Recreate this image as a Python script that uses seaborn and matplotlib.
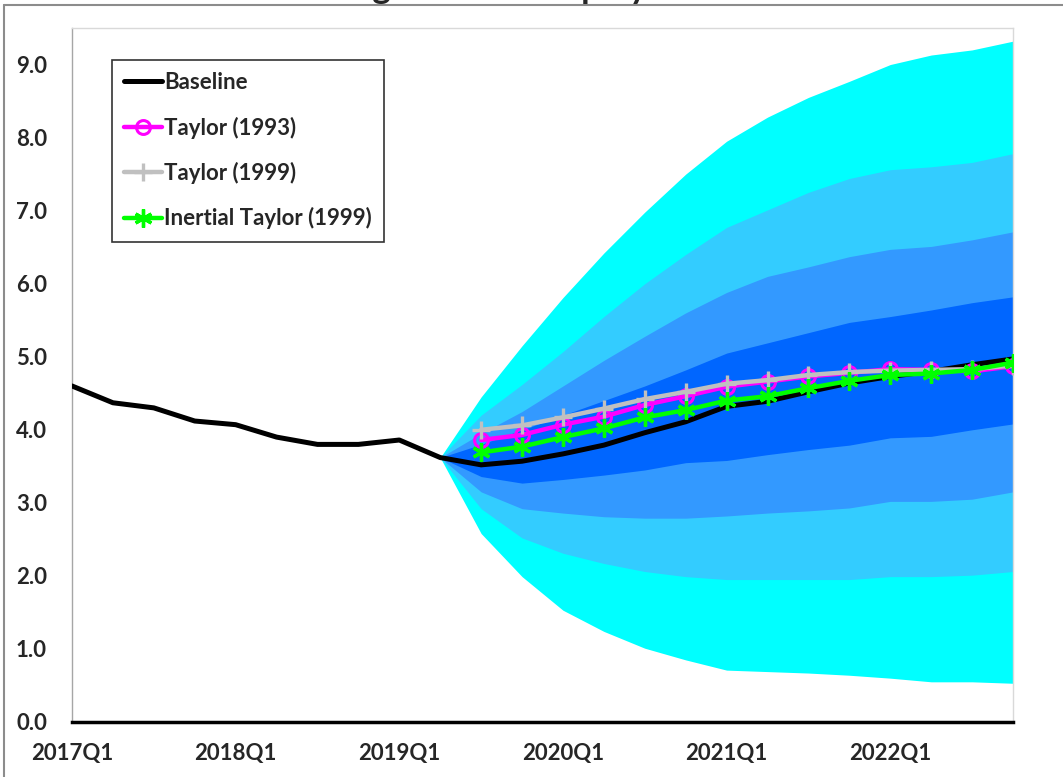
import numpy as np
import pandas as pd
import seaborn as sns
import matplotlib.pyplot as plt
from matplotlib.lines import Line2D

sns.set_style('white')
plt.rcParams['font.family'] = ['Lato', 'DejaVu Sans']
plt.rcParams['font.weight'] = 'bold'

# quarters 2017Q1 .. 2022Q4
quarters = [f'{y}Q{q}' for y in range(2017, 2023) for q in range(1, 5)]
tick_labels = ['2017Q1', '2018Q1', '2019Q1', '2020Q1', '2021Q1', '2022Q1']

baseline = [4.60, 4.37, 4.30, 4.12, 4.07, 3.90, 3.80, 3.80, 3.86, 3.62, 3.52, 3.57,
            3.67, 3.79, 3.96, 4.11, 4.32, 4.39, 4.52, 4.64, 4.73, 4.80, 4.89, 4.97]

# fan chart bands, from 2019Q2 on
hi4 = [3.62, 4.45, 5.15, 5.81, 6.42, 6.98, 7.50, 7.95, 8.28, 8.55, 8.77, 9.00, 9.13, 9.20, 9.32]
hi3 = [3.62, 4.20, 4.62, 5.07, 5.55, 6.00, 6.40, 6.77, 7.01, 7.25, 7.44, 7.56, 7.60, 7.66, 7.78]
hi2 = [3.62, 3.95, 4.25, 4.60, 4.95, 5.28, 5.60, 5.88, 6.10, 6.23, 6.37, 6.47, 6.51, 6.60, 6.71]
hi1 = [3.62, 3.80, 4.00, 4.20, 4.40, 4.60, 4.82, 5.05, 5.19, 5.33, 5.47, 5.55, 5.64, 5.74, 5.82]
lo1 = [3.62, 3.36, 3.27, 3.32, 3.38, 3.45, 3.55, 3.58, 3.66, 3.73, 3.79, 3.89, 3.91, 4.00, 4.08]
lo2 = [3.62, 3.15, 2.92, 2.86, 2.81, 2.79, 2.79, 2.82, 2.86, 2.89, 2.93, 3.02, 3.02, 3.05, 3.15]
lo3 = [3.62, 2.92, 2.52, 2.31, 2.17, 2.06, 1.99, 1.95, 1.95, 1.95, 1.95, 1.99, 1.99, 2.01, 2.06]
lo4 = [3.62, 2.58, 1.99, 1.53, 1.24, 1.01, 0.85, 0.71, 0.69, 0.67, 0.64, 0.60, 0.55, 0.55, 0.53]

# policy rule paths, from 2019Q3 on
taylor93 = [3.86, 3.93, 4.07, 4.18, 4.34, 4.46, 4.59, 4.66, 4.73, 4.78, 4.83, 4.82, 4.80, 4.87]
taylor99 = [4.00, 4.06, 4.17, 4.29, 4.42, 4.52, 4.63, 4.68, 4.75, 4.79, 4.81, 4.82, 4.83, 4.88]
inertial = [3.69, 3.77, 3.90, 4.02, 4.17, 4.27, 4.40, 4.46, 4.57, 4.67, 4.75, 4.77, 4.82, 4.92]

t_all = np.arange(len(quarters))
t_fan = t_all[9:]
t_pol = t_all[10:]

fig = plt.figure(figsize=(10.63, 7.77), dpi=100)
ax = fig.add_axes([72/1063, 1-722/777, (1013-72)/1063, (722-28)/777])

#扇形区间
fan_cols = ['#00FFFF', '#33CCFF', '#3399FF', '#0066FF']
for lo, hi, c in zip([lo4, lo3, lo2, lo1], [hi4, hi3, hi2, hi1], fan_cols):
    ax.fill_between(t_fan, lo, hi, color=c, lw=0, zorder=1)

df_base = pd.DataFrame({'t': t_all, 'v': baseline})
sns.lineplot(data=df_base, x='t', y='v', color='black', lw=3.6, ax=ax,
             label='Baseline', zorder=3)
sns.lineplot(x=t_pol, y=taylor93, color='#FF00FF', lw=3.2, marker='o', ms=10,
             mfc='none', mec='#FF00FF', mew=2.2, ax=ax, label='Taylor (1993)', zorder=4)
sns.lineplot(x=t_pol, y=taylor99, color='#C0C0C0', lw=3.2, marker='+', ms=13,
             mec='#C0C0C0', mew=2.4, ax=ax, label='Taylor (1999)', zorder=5)
sns.lineplot(x=t_pol, y=inertial, color='#00FF00', lw=3.2, marker=(6, 2, 0), ms=13,
             mec='#00FF00', mew=2.4, ax=ax, label='Inertial Taylor (1999)', zorder=6)

ax.set_xlim(0, 23)
ax.set_ylim(0, 9.5)
ax.set_xticks(np.arange(0, 21, 4))
ax.set_xticklabels(tick_labels)
ax.set_yticks(np.arange(0, 9.1, 1.0))
ax.set_yticklabels([f'{v:.1f}' for v in np.arange(0, 9.1, 1.0)])
ax.set_xlabel('')
ax.set_ylabel('')
ax.tick_params(axis='x', length=7, width=1, color='#a6a6a6', pad=8, labelsize=16)
ax.tick_params(axis='y', length=6, width=1, color='#a6a6a6', pad=12, labelsize=16)
for s in ['top', 'right']:
    ax.spines[s].set_color('#d9d9d9')
    ax.spines[s].set_linewidth(1)
ax.spines['left'].set_color('#a6a6a6')
ax.spines['left'].set_linewidth(1)
ax.spines['bottom'].set_color('black')
ax.spines['bottom'].set_linewidth(2.5)
ax.spines['bottom'].set_zorder(7)

leg = ax.legend(loc='upper left', bbox_to_anchor=(0.0425, 0.954), fontsize=16,
                frameon=True, fancybox=False, handlelength=1.7, handletextpad=0.1,
                labelspacing=1.05, borderpad=0.55, borderaxespad=0)
leg.get_frame().set_edgecolor('black')
leg.get_frame().set_linewidth(1.2)

# 截断的标题和外框
fig.text(0.542, 1.002, 'Figure 1: Unemployment Rate', ha='center', va='baseline',
         fontsize=25, fontweight='bold')
fig.add_artist(Line2D([4/1063, 1], [1-5/777, 1-5/777], color='#8c8c8c', lw=1.5))
fig.add_artist(Line2D([4/1063, 4/1063], [0, 1-5/777], color='#8c8c8c', lw=1.5))

fig.savefig('out.png', dpi=100)
